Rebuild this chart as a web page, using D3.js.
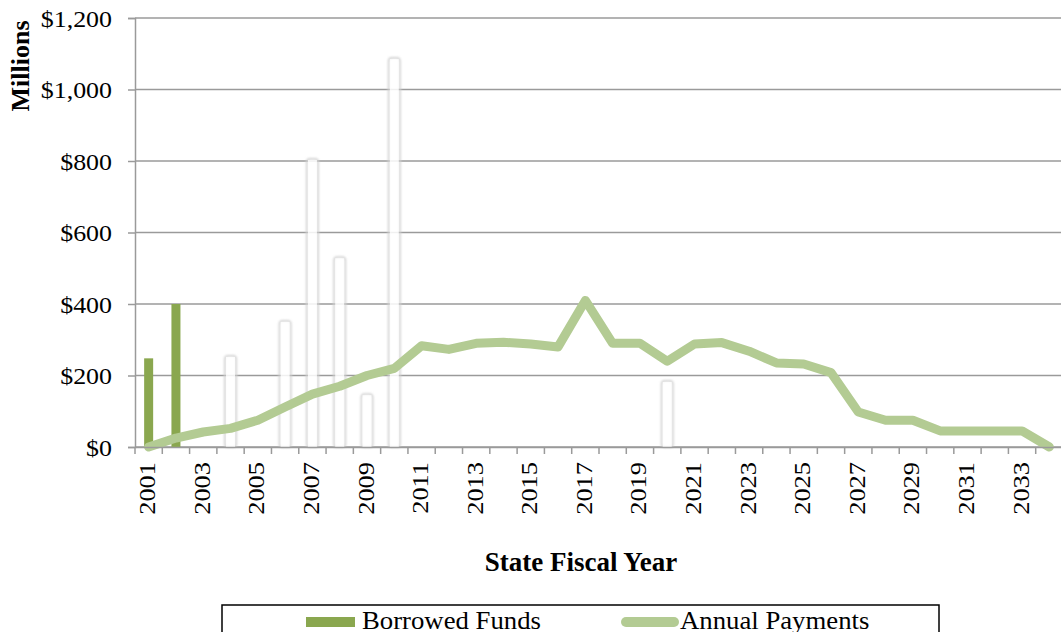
<!DOCTYPE html>
<html>
<head>
<meta charset="utf-8">
<script src="https://cdn.jsdelivr.net/npm/d3@7"></script>
<style>
  body { margin: 0; background: #fff; }
  text { font-family: "Liberation Serif", "Times New Roman", serif; }
</style>
</head>
<body>
<div id="chart"></div>
<script>
// data
const years = d3.range(2001, 2035).map(String);
const borrowedYears = ["2001", "2002"];
const borrowedValues = [248, 400];
const ghostYears = ["2004", "2006", "2007", "2008", "2009", "2010", "2020"];
const ghostValues = [252, 350, 803, 528, 145, 1085, 182];
const payments = [0, 25, 42, 52, 75, 112, 148, 170, 200, 220, 283, 273, 290, 293, 288, 280, 410,
                  290, 290, 240, 288, 292, 268, 235, 232, 208, 98, 75, 75, 45, 45, 45, 45, 0];
const yTicks = [0, 200, 400, 600, 800, 1000, 1200];

const width = 1061, height = 632;
const margin = {top: 18, right: -2, bottom: 185, left: 135};
const innerW = width - margin.left - margin.right;
const innerH = height - margin.top - margin.bottom;

const svg = d3.select("#chart").append("svg")
    .attr("width", width)
    .attr("height", height);

const defs = svg.append("defs");
const f = defs.append("filter").attr("id", "soft")
    .attr("x", "-50%").attr("y", "-10%").attr("width", "200%").attr("height", "120%");
f.append("feGaussianBlur").attr("stdDeviation", 1.2);

const g = svg.append("g")
    .attr("transform", "translate(" + margin.left + "," + margin.top + ")");

const x = d3.scaleBand().domain(years).range([0, innerW]);
const y = d3.scaleLinear().domain([0, 1200]).range([innerH, 0]);

// gridlines
g.selectAll(".grid").data(yTicks).join("line")
    .attr("x1", 0).attr("x2", innerW)
    .attr("y1", d => y(d)).attr("y2", d => y(d))
    .attr("stroke", "#9a9a9a").attr("stroke-width", 1.5);

const bw = x.bandwidth() * 0.33;

// ghost bars (white with soft shading)
ghostYears.forEach((yr, i) => {
  const cx = x(yr) + x.bandwidth() / 2;
  g.append("rect")
      .attr("x", cx - bw / 2 - 1).attr("y", y(ghostValues[i]) - 1)
      .attr("width", bw + 2).attr("height", innerH - y(ghostValues[i]) + 1)
      .attr("rx", 3)
      .attr("fill", "none").attr("stroke", "#d2d2d2").attr("stroke-width", 2)
      .attr("filter", "url(#soft)");
  g.append("rect")
      .attr("x", cx - bw / 2).attr("y", y(ghostValues[i]))
      .attr("width", bw).attr("height", innerH - y(ghostValues[i]))
      .attr("fill", "#fff").attr("fill-opacity", 0.85);
});

// borrowed funds bars
g.selectAll(".bar").data(borrowedYears).join("rect")
    .attr("x", d => x(d) + x.bandwidth() / 2 - bw / 2)
    .attr("y", (d, i) => y(borrowedValues[i]))
    .attr("width", bw)
    .attr("height", (d, i) => innerH - y(borrowedValues[i]))
    .attr("fill", "#8aa74f");

// annual payments line
const line = d3.line()
    .x((d, i) => x(years[i]) + x.bandwidth() / 2)
    .y(d => y(d));
g.append("path").datum(payments)
    .attr("d", line)
    .attr("fill", "none")
    .attr("stroke", "#b3cb93")
    .attr("stroke-width", 9)
    .attr("stroke-linejoin", "round")
    .attr("stroke-linecap", "round");

// y axis
const yAxis = g.append("g")
    .call(d3.axisLeft(y).tickValues(yTicks).tickSize(7)
        .tickFormat(d => "$" + d3.format(",")(d)));
yAxis.select(".domain").attr("stroke", "#9a9a9a").attr("stroke-width", 1.5);
yAxis.selectAll(".tick line").attr("stroke", "#9a9a9a").attr("stroke-width", 1.5);
yAxis.selectAll("text")
    .attr("font-size", 24).attr("fill", "#000")
    .style("font-family", "Liberation Serif")
    .attr("x", 0).attr("dy", "0.34em")
    .attr("text-anchor", "end")
    .attr("transform", "translate(-23,0) scale(1.08,1)");

// x axis
const xAxis = g.append("g").attr("transform", "translate(0," + innerH + ")")
    .call(d3.axisBottom(x).tickSize(0).tickFormat(""));
xAxis.select(".domain").attr("stroke", "#9a9a9a").attr("stroke-width", 1.5);
xAxis.selectAll(".tick").remove();
const bounds = years.map(d => x(d)).concat([innerW]);
g.selectAll(".xtick").data(bounds).join("line")
    .attr("x1", d => d).attr("x2", d => d)
    .attr("y1", innerH).attr("y2", innerH + 7)
    .attr("stroke", "#9a9a9a").attr("stroke-width", 1.5);
g.selectAll(".xlabel").data(years.filter((d, i) => i % 2 === 0)).join("text")
    .attr("transform", d => "translate(" + (x(d) + x.bandwidth() / 2 + 6.5) + "," + (innerH + 15) + ") rotate(-90) scale(1.1,1)")
    .attr("text-anchor", "end")
    .attr("font-size", 24)
    .text(d => d);

// axis titles
svg.append("text")
    .attr("x", 581).attr("y", 571)
    .attr("text-anchor", "middle")
    .attr("font-size", 27).attr("font-weight", "bold")
    .text("State Fiscal Year");
svg.append("text")
    .attr("transform", "translate(29,66) rotate(-90)")
    .attr("text-anchor", "middle")
    .attr("font-size", 26).attr("font-weight", "bold")
    .text("Millions");

// legend
const lg = svg.append("g");
lg.append("rect").attr("x", 222).attr("y", 605).attr("width", 717).attr("height", 40)
    .attr("fill", "#fff").attr("stroke", "#000").attr("stroke-width", 1.5);
lg.append("rect").attr("x", 306).attr("y", 617).attr("width", 49).attr("height", 10)
    .attr("fill", "#8aa74f");
lg.append("text").attr("transform", "translate(362,629) scale(1.07,1)")
    .attr("font-size", 25).text("Borrowed Funds");
lg.append("line").attr("x1", 626).attr("x2", 674).attr("y1", 622).attr("y2", 622)
    .attr("stroke", "#b3cb93").attr("stroke-width", 10).attr("stroke-linecap", "round");
lg.append("text").attr("transform", "translate(680,629) scale(1.07,1)")
    .attr("font-size", 25).text("Annual Payments");
</script>
</body>
</html>
